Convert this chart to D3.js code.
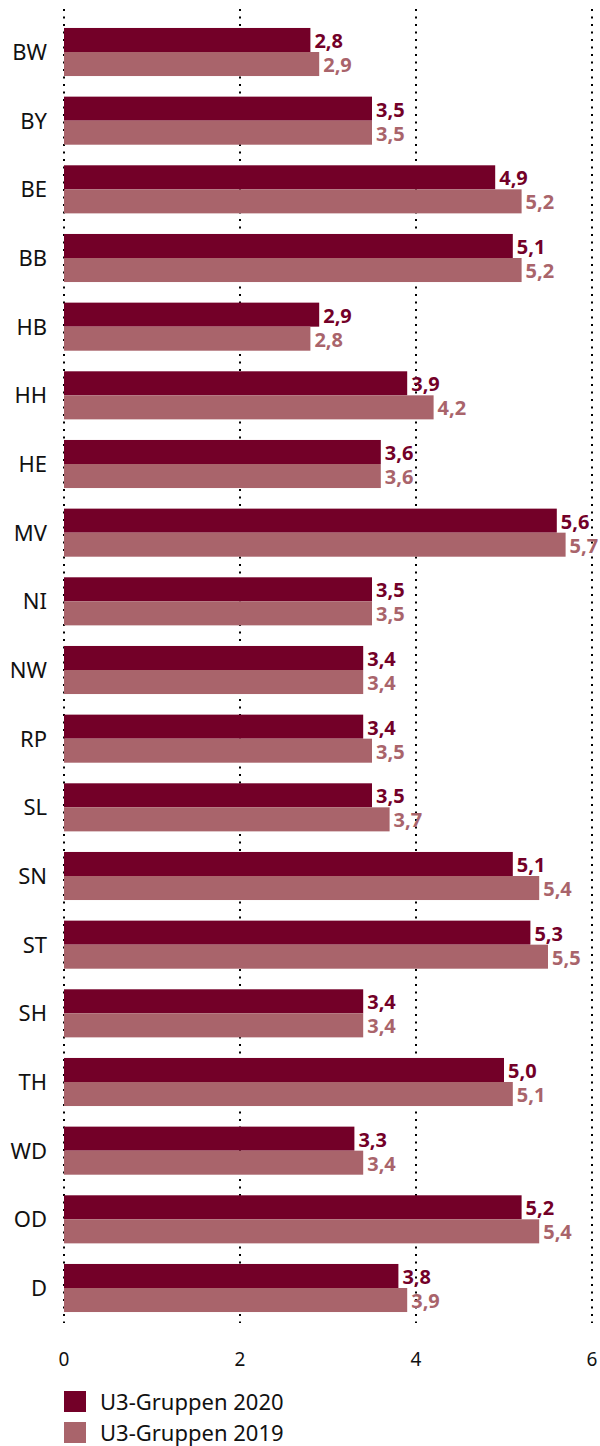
<!DOCTYPE html>
<html>
<head>
<meta charset="utf-8">
<script src="https://cdn.jsdelivr.net/npm/d3@7"></script>
<style>
  body { margin: 0; background: #fff; }
  svg text { font-family: "Noto Sans", "Open Sans", sans-serif; }
</style>
</head>
<body>
<div id="chart"></div>
<script>
`use strict`;

const laender = [`BW`, `BY`, `BE`, `BB`, `HB`, `HH`, `HE`, `MV`, `NI`, `NW`, `RP`, `SL`, `SN`, `ST`, `SH`, `TH`, `WD`, `OD`, `D`];

const werte2020 = [2.8, 3.5, 4.9, 5.1, 2.9, 3.9, 3.6, 5.6, 3.5, 3.4, 3.4, 3.5, 5.1, 5.3, 3.4, 5.0, 3.3, 5.2, 3.8];

const werte2019 = [2.9, 3.5, 5.2, 5.2, 2.8, 4.2, 3.6, 5.7, 3.5, 3.4, 3.5, 3.7, 5.4, 5.5, 3.4, 5.1, 3.4, 5.4, 3.9];

const ticks = [0, 2, 4, 6];

const serien = [`U3-Gruppen 2020`, `U3-Gruppen 2019`];

(function () {

  const W = 600, H = 1446;
  const dunkel = `#730028`, hell = `#a9646b`;

  let svg = d3.select(`#chart`).append(`svg`)
    .attr(`width`, W)
    .attr(`height`, H);

  let x = d3.scaleLinear().domain([0, 6]).range([64, 592]);

  let y = d3.scaleBand().domain(laender)
    .range([17.67, 1322.33])
    .paddingInner(0.3)
    .paddingOuter(0.15);

  let sub = d3.scaleBand().domain([0, 1]).range([0, y.bandwidth()]);

  // grid
  svg.append(`g`).selectAll(`line`).data(ticks)
    .enter()
    .append(`line`)
    .attr(`x1`, d => x(d))
    .attr(`x2`, d => x(d))
    .attr(`y1`, 9)
    .attr(`y2`, 1323)
    .attr(`stroke`, `#000`)
    .attr(`stroke-width`, 2)
    .attr(`stroke-dasharray`, `2,5.5`);

  let rows = laender.map((l, i) => ({l, v: [werte2020[i], werte2019[i]]}));

  let g = svg.append(`g`).selectAll(`g`).data(rows)
    .enter()
    .append(`g`)
    .attr(`transform`, d => `translate(0,${y(d.l)})`);

  g.append(`text`)
    .attr(`x`, 47)
    .attr(`y`, y.bandwidth() / 2 + 8)
    .attr(`text-anchor`, `end`)
    .style(`font-size`, `22px`)
    .attr(`fill`, `#111`)
    .text(d => d.l);

  let bars = g.selectAll(`g.s`).data(d => d.v)
    .enter()
    .append(`g`)
    .attr(`class`, `s`);

  bars.append(`rect`)
    .attr(`x`, x(0))
    .attr(`y`, (d, j) => sub(j))
    .attr(`width`, d => x(d) - x(0))
    .attr(`height`, sub.bandwidth())
    .attr(`fill`, (d, j) => j ? hell : dunkel);

  bars.append(`text`)
    .attr(`x`, d => x(d) + 4)
    .attr(`y`, (d, j) => sub(j) + sub.bandwidth() - 4)
    .style(`font-size`, `20px`)
    .attr(`font-weight`, `bold`)
    .attr(`fill`, (d, j) => j ? hell : dunkel)
    .text(d => d3.format(`.1f`)(d).replace(`.`, `,`));

  // axis labels
  svg.append(`g`).selectAll(`text`).data(ticks)
    .enter()
    .append(`text`)
    .attr(`x`, d => x(d))
    .attr(`y`, 1366)
    .attr(`text-anchor`, `middle`)
    .style(`font-size`, `19px`)
    .attr(`fill`, `#111`)
    .text(d => d);

  // legend
  let leg = svg.append(`g`).selectAll(`g`).data(serien)
    .enter()
    .append(`g`)
    .attr(`transform`, (d, i) => `translate(64,${1391 + i * 31})`);

  leg.append(`rect`)
    .attr(`width`, 22)
    .attr(`height`, 21)
    .attr(`fill`, (d, i) => i ? hell : dunkel);

  leg.append(`text`)
    .attr(`x`, 36)
    .attr(`y`, 19)
    .style(`font-size`, `22px`)
    .attr(`fill`, `#111`)
    .text(d => d);

})();
</script>
</body>
</html>
